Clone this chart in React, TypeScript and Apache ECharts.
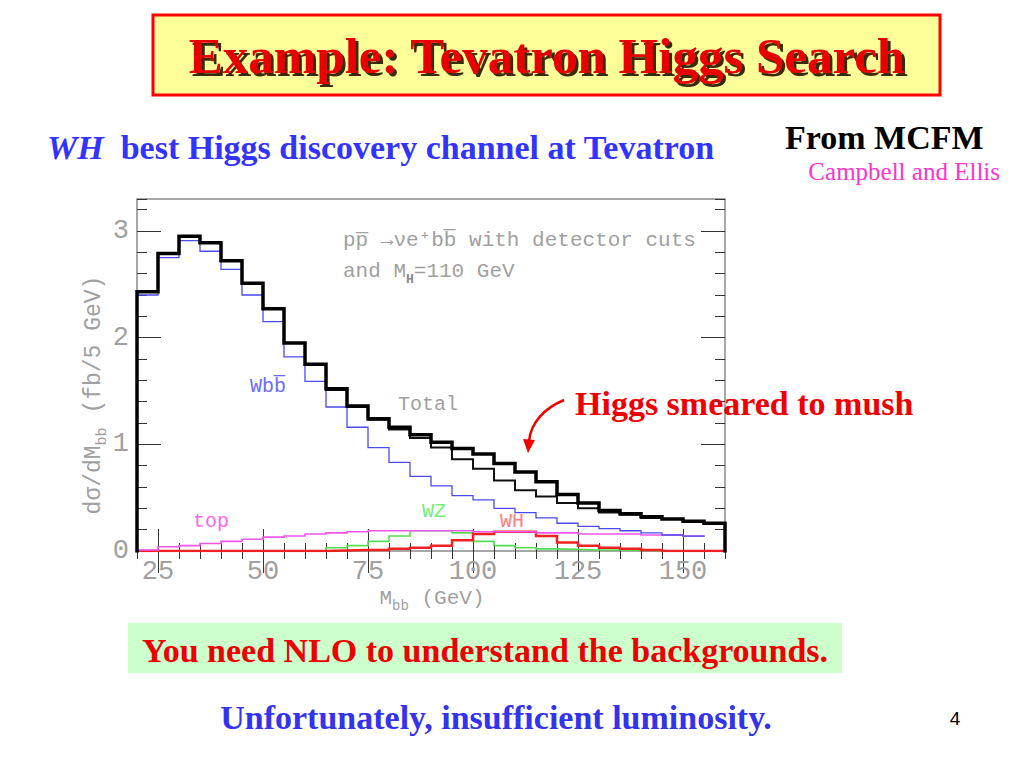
import React, { useEffect, useRef } from "react";
import * as echarts from "echarts";

// ---- data ----
const BIN_WIDTH = 5;
const binStarts = [20, 25, 30, 35, 40, 45, 50, 55, 60, 65, 70, 75, 80, 85, 90, 95, 100, 105, 110, 115, 120, 125, 130, 135, 140, 145, 150, 155];
const totalWithHiggs = [2.43, 2.79, 2.95, 2.89, 2.72, 2.51, 2.27, 1.95, 1.75, 1.52, 1.36, 1.24, 1.16, 1.09, 1.02, 0.96, 0.91, 0.82, 0.74, 0.65, 0.53, 0.45, 0.38, 0.35, 0.32, 0.30, 0.28, 0.26];
const totalBackground = [2.43, 2.79, 2.95, 2.89, 2.72, 2.51, 2.27, 1.95, 1.75, 1.51, 1.35, 1.23, 1.14, 1.06, 0.97, 0.86, 0.77, 0.66, 0.57, 0.51, 0.45, 0.40, 0.36, 0.34, 0.31, 0.30, 0.28, 0.26];
const wbb = [2.40, 2.75, 2.91, 2.81, 2.64, 2.40, 2.15, 1.82, 1.59, 1.35, 1.16, 0.97, 0.83, 0.70, 0.61, 0.52, 0.48, 0.40, 0.36, 0.31, 0.26, 0.23, 0.21, 0.19, 0.17, 0.15, 0.14];
const topQuark = [0.01, 0.04, 0.05, 0.07, 0.09, 0.11, 0.13, 0.14, 0.16, 0.17, 0.18, 0.19, 0.19, 0.19, 0.19, 0.19, 0.18, 0.18, 0.18, 0.17, 0.17, 0.16, 0.16, 0.16, 0.15, 0.15, 0.14];
const wz = [0, 0, 0, 0, 0, 0, 0, 0, 0, 0.03, 0.05, 0.09, 0.14, 0.19, 0.19, 0.17, 0.09, 0.05, 0.03, 0.02, 0.015, 0.01, 0.01, 0.005, 0, 0, 0, 0];
const wh = [0, 0, 0, 0, 0, 0, 0, 0, 0, 0.005, 0.01, 0.01, 0.02, 0.03, 0.05, 0.10, 0.16, 0.18, 0.18, 0.14, 0.08, 0.05, 0.03, 0.02, 0.01, 0, 0, 0];
const xTickLabels = [25, 50, 75, 100, 125, 150];
const yTickLabels = [0, 1, 2, 3];
const X_MIN = 20;
const X_MAX = 160;
const Y_MAX = 3.3;

function histPoints(values: number[], closeLeft = false, closeRight = false) {
  const pts: number[][] = [];
  if (closeLeft) pts.push([binStarts[0], 0]);
  values.forEach((v, i) => pts.push([binStarts[i], v]));
  const lastEdge = binStarts[values.length - 1] + BIN_WIDTH;
  pts.push([lastEdge, values[values.length - 1]]);
  if (closeRight) pts.push([lastEdge, 0]);
  return pts;
}

const MONO = "'Liberation Mono', 'DejaVu Sans Mono', monospace";
const SERIF = "'Liberation Serif', 'DejaVu Serif', serif";
const GRAY = "#a0a0a0";
const TICK = "#333";

function hist(name: string, values: number[], color: string, width: number, z: number, closeL = false, closeR = false) {
  return {
    name,
    type: "line",
    step: "end",
    data: histPoints(values, closeL, closeR),
    symbol: "none",
    showSymbol: false,
    silent: true,
    xAxisIndex: 0,
    yAxisIndex: 0,
    z,
    lineStyle: { color, width, cap: "square", join: "miter" },
  };
}

function xAx(position: string, major: boolean, labels: boolean) {
  const ax: any = {
    type: "value",
    min: X_MIN,
    max: X_MAX,
    position,
    axisLine: { show: false },
    splitLine: { show: false },
    axisTick: { inside: true, length: major ? 22 : 8, lineStyle: { color: TICK, width: 1 } },
    axisLabel: { show: false },
  };
  if (major) {
    ax.axisTick.customValues = xTickLabels;
    if (labels) {
      ax.axisLabel = { show: true, customValues: xTickLabels, color: GRAY, fontSize: 27, fontFamily: MONO, margin: 7 };
    }
  } else {
    ax.interval = BIN_WIDTH;
  }
  return ax;
}

function yAx(position: string, major: boolean, labels: boolean) {
  const ax: any = {
    type: "value",
    min: 0,
    max: Y_MAX,
    position,
    axisLine: { show: false },
    splitLine: { show: false },
    axisTick: { inside: true, length: major ? 24 : 10, lineStyle: { color: TICK, width: 1 } },
    axisLabel: { show: false },
  };
  if (major) {
    ax.axisTick.customValues = yTickLabels;
    if (labels) {
      ax.axisLabel = { show: true, customValues: yTickLabels, color: GRAY, fontSize: 27, fontFamily: MONO, margin: 8 };
    }
  } else {
    ax.interval = 0.2;
  }
  return ax;
}

function txt(text: string, x: number, y: number, font: string, fill: string, align = "left", extra: any = {}) {
  return {
    type: "text",
    x,
    y,
    z: 100,
    silent: true,
    style: { text, font, fill, align, verticalAlign: "middle", ...extra },
  };
}

export default function App() {
  const ref = useRef<HTMLDivElement>(null);
  useEffect(() => {
    if (!ref.current) return;
    const chart = echarts.init(ref.current, null, { renderer: "svg" });
    const option: any = {
      animation: false,
      backgroundColor: "#ffffff",
      grid: { left: 137, top: 199, width: 588, height: 352, show: true, borderColor: "#8a8a8a", borderWidth: 1.5, backgroundColor: "transparent" },
      xAxis: [xAx("bottom", true, true), xAx("bottom", false, false), xAx("top", true, false), xAx("top", false, false)],
      yAxis: [yAx("left", true, true), yAx("left", false, false), yAx("right", true, false), yAx("right", false, false)],
      series: [
        hist("WZ", wz, "#55dd55", 1.6, 2),
        hist("WH", wh, "#ee2222", 2.5, 3),
        hist("top", topQuark, "#ee55ee", 1.6, 4),
        hist("Wbb", wbb, "#4b4bf0", 1.3, 5),
        hist("Total background", totalBackground, "#111111", 2, 6),
        hist("Total", totalWithHiggs, "#000000", 3.5, 7, true, true),
      ],
      graphic: [
        // title box
        { type: "rect", z: 90, shape: { x: 153, y: 15, width: 787, height: 80 }, style: { fill: "#ffff99", stroke: "#ff0000", lineWidth: 3 } },
        txt("Example: Tevatron Higgs Search", 547, 56, `bold 51px ${SERIF}`, "#e80000", "center", {
          shadowColor: "#3a2a10",
          shadowOffsetX: 3,
          shadowOffsetY: 3,
          shadowBlur: 0.5,
          textShadowColor: "#3a2a10",
          textShadowOffsetX: 3,
          textShadowOffsetY: 3,
          textShadowBlur: 0.5,
        }),
        // subtitle
        txt("{i|WH}  best Higgs discovery channel at Tevatron", 47, 147, `bold 34px ${SERIF}`, "#3333ff", "left", {
          rich: { i: { font: `italic bold 34px ${SERIF}`, fill: "#3333ff" } },
        }),
        txt("From MCFM", 785, 137, `bold 34px ${SERIF}`, "#000000", "left", { lineHeight: 28 }),
        txt("Campbell and Ellis", 1000, 171, `25px ${SERIF}`, "#ff33cc", "right", { lineHeight: 20 }),
        // plot annotations
        txt("pp\u0305 \u2192\u03bde\u207abb\u0305 with detector cuts", 343, 240, `21px ${MONO}`, GRAY),
        txt("{m|and M}{s|H}{m|=110 GeV}", 343, 271, `21px ${MONO}`, GRAY, "left", {
          rich: {
            m: { fontSize: 21, fontFamily: MONO, lineHeight: 30, fill: GRAY },
            s: { fontSize: 13, fontFamily: MONO, fontWeight: "bold", lineHeight: 13, verticalAlign: "bottom", fill: "#888" },
          },
        }),
        txt("Wbb\u0305", 250, 386, `20px ${MONO}`, "#6b6bff"),
        txt("Total", 398, 404, `20px ${MONO}`, GRAY),
        txt("top", 193, 521, `20px ${MONO}`, "#ff66ee"),
        txt("WZ", 422, 511, `20px ${MONO}`, "#77ee77"),
        txt("WH", 500, 521, `20px ${MONO}`, "#ff8080"),
        // axis names
        {
          type: "text",
          x: 94,
          y: 395,
          rotation: Math.PI / 2,
          z: 100,
          silent: true,
          style: {
            text: "{m|d\u03c3/dM}{s|bb}{m| (fb/5 GeV)}",
            align: "center",
            verticalAlign: "middle",
            fill: GRAY,
            rich: {
              m: { fontSize: 23, fontFamily: MONO, lineHeight: 32, fill: GRAY },
              s: { fontSize: 15, fontFamily: MONO, lineHeight: 15, verticalAlign: "bottom", fill: GRAY },
            },
          },
        },
        txt("{m|M}{s|bb}{m| (GeV)}", 432, 598, `21px ${MONO}`, GRAY, "center", {
          rich: {
            m: { fontSize: 21, fontFamily: MONO, lineHeight: 30, fill: GRAY },
            s: { fontSize: 14, fontFamily: MONO, lineHeight: 14, verticalAlign: "bottom", fill: GRAY },
          },
        }),
        // Higgs annotation + arrow
        txt("Higgs smeared to mush", 575, 403, `bold 34px ${SERIF}`, "#ee0000"),
        {
          type: "bezierCurve",
          z: 100,
          silent: true,
          shape: { x1: 564, y1: 400, cpx1: 545, cpy1: 408, cpx2: 531, cpy2: 422, x2: 529, y2: 441 },
          style: { stroke: "#ee0000", lineWidth: 2.5, fill: null },
        },
        {
          type: "polygon",
          z: 100,
          silent: true,
          shape: { points: [[528, 453], [523, 439], [535, 440]] },
          style: { fill: "#ee0000" },
        },
        // bottom messages
        { type: "rect", z: 90, shape: { x: 128, y: 623, width: 714, height: 50 }, style: { fill: "#ccffcc" } },
        txt("You need NLO to understand the backgrounds.", 485, 650, `bold 34px ${SERIF}`, "#ee0000", "center"),
        txt("Unfortunately, insufficient luminosity.", 496, 717, `bold 34px ${SERIF}`, "#3333ee", "center"),
        txt("4", 955, 718, `19px 'Liberation Sans', Arial, sans-serif`, "#000000", "center"),
      ],
    };
    chart.setOption(option);
    return () => chart.dispose();
  }, []);
  return (
    <div
      ref={ref}
      style={{ position: "absolute", left: 0, top: 0, width: 1024, height: 768, background: "#ffffff" }}
    />
  );
}
